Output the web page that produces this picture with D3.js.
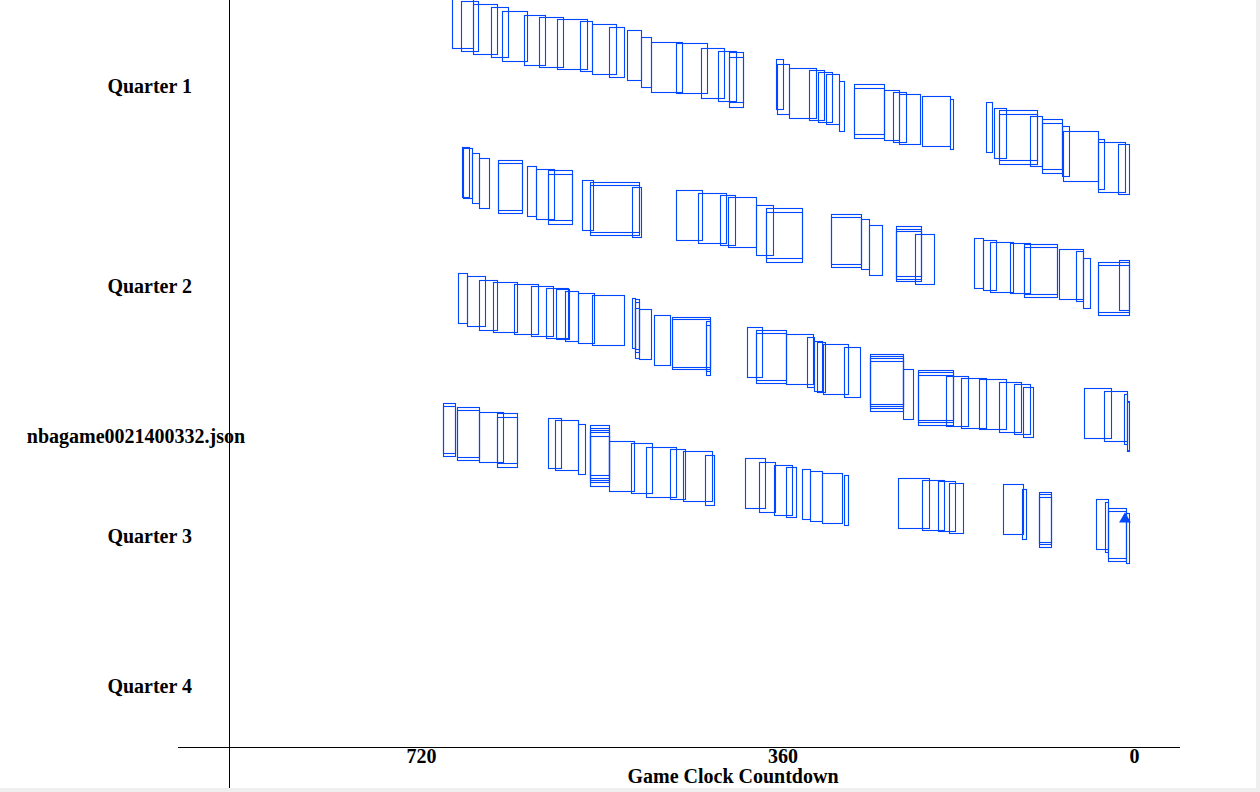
<!DOCTYPE html>
<html>
<head>
<meta charset="utf-8">
<script src="https://cdnjs.cloudflare.com/ajax/libs/d3/7.8.5/d3.min.js"></script>
<style>
  html, body { margin: 0; padding: 0; background: #fff; overflow: hidden; }
  text { font-family: "Liberation Serif", "Times New Roman", serif; font-weight: bold; font-size: 20px; fill: #000; }
</style>
</head>
<body>
<svg id="chart" width="1260" height="792"></svg>
<script>
// ---- data: [clockStart (s), clockEnd (s), rowOffset (units)] per quarter ----
const quarter1 = [
  [674.6,653.1,-0.2],[665.3,648.1,0.1],[653.1,629.2,0.43],[635.4,618.8,0.73],[624.8,599.3,1.07],
  [602.3,581.4,1.5],[587.3,563.4,1.73],[569.4,540.1,1.93],[546.5,535.2,2.07],[535.2,511.3,2.43],
  [517.6,502.7,2.67],[499.7,485.8,3.0],[485.8,476.4,3.73],[476.4,444.9,4.17],[450.9,420.0,4.33],
  [426.0,403.1,4.77],[409.1,391.7,5.07],[398.1,384.2,5.23],[398.1,384.2,5.73],
  [351.9,345.0,5.93],[350.9,338.3,6.4],[338.3,312.0,6.8],[318.4,303.5,7.0],[309.5,295.5,7.17],
  [301.5,288.5,7.4],[288.5,283.5,8.1],[273.6,243.7,8.37],[273.6,243.7,8.77],[243.7,228.8,9.0],
  [234.8,222.4,9.15],[228.8,208.5,9.35],[205.9,178.6,9.6],[178.6,175.0,9.9],[142.1,136.2,10.2],
  [134.2,122.8,10.8],[129.2,91.9,11.03],[129.2,91.9,11.43],[98.3,87.0,11.55],[87.0,67.0,11.93],
  [87.0,67.0,12.33],[67.0,59.5,12.6],[65.4,31.2,13.1],[31.2,24.6,13.9],[30.6,4.3,14.23],[10.7,0,14.45]
];
const quarter2 = [
  [664.0,657.0,14.72],[663.0,654.1,14.83],[654.1,647.4,15.28],[647.4,637.7,15.8],[628.2,604.9,16.03],
  [628.2,604.9,16.3],[599.3,590.3,16.55],[590.3,572.5,16.93],[578.4,555.1,17.03],[578.4,555.1,17.37],
  [544.5,534.2,18.0],[536.5,488.3,18.23],[536.5,488.3,18.5],[494.7,485.8,18.73],[450.9,425.6,19.0],
  [429.0,401.7,19.25],[407.1,392.7,19.5],[399.1,371.2,19.65],[371.2,354.9,20.5],[361.3,325.7,20.83],
  [361.3,325.7,21.2],[296.5,267.2,21.43],[296.5,267.2,21.73],[267.2,259.3,21.95],[259.3,245.7,22.45],
  [231.8,206.9,22.63],[231.8,206.9,22.87],[231.8,206.9,23.1],[212.8,193.9,23.42],[154.1,145.2,23.75],
  [145.1,132.3,24.0],[138.1,115.8,24.15],[118.2,98.3,24.3],[104.3,72.0,24.43],[104.3,72.0,24.73],
  [69.4,46.1,24.9],[52.5,46.1,25.07],[46.1,38.5,25.8],[30.6,0,26.23],[30.6,0,26.53],[9.7,0,26.03]
];
const quarter3 = [
  [668.0,659.1,27.3],[659.1,641.2,27.63],[647.1,629.8,28.0],[633.2,609.3,28.2],[612.2,588.9,28.35],
  [595.3,574.0,28.55],[580.4,559.1,28.8],[570.4,557.8,28.93],[561.4,548.5,29.1],[548.5,532.6,29.33],
  [535.2,502.7,29.53],[495.3,492.4,29.75],[492.4,488.4,29.93],[492.4,488.4,30.2],[492.4,488.4,30.77],
  [488.4,475.8,30.88],[472.8,457.5,31.47],[455.6,417.0,31.67],[455.6,417.0,31.9],[421.7,417.0,32.1],
  [421.7,417.0,32.5],
  [380.1,365.2,32.7],[371.2,341.3,33.0],[371.2,341.3,33.33],[341.3,314.4,33.43],[320.4,313.4,33.65],
  [313.4,306.1,34.07],[310.5,302.5,34.2],[304.5,279.6,34.4],[283.6,267.6,34.65],[257.7,225.4,35.37],
  [257.7,225.4,35.6],[257.7,225.4,35.83],[257.7,225.4,36.1],[225.4,215.5,36.85],[209.9,175.6,37.03],
  [209.9,175.6,37.23],[209.9,175.6,37.5],[182.0,160.7,37.65],[167.0,142.7,37.8],[149.1,122.8,37.93],
  [129.2,107.9,38.15],[114.2,98.9,38.42],[105.3,95.3,38.68],[44.5,18.2,38.83],[24.6,1.7,39.05],
  [4.7,1.7,39.4],[1.7,0,40.1]
];
const quarter4 = [
  [683.0,671.0,40.33],[683.0,671.0,40.6],[669.0,647.1,40.73],[669.0,647.1,41.0],[647.1,623.2,41.23],
  [629.2,609.3,41.33],[629.2,609.3,41.67],[578.4,565.4,41.83],[571.4,548.5,41.98],[548.5,541.5,42.43],
  [536.5,517.6,42.53],[536.5,517.6,42.77],[536.5,517.6,43.0],[536.5,517.6,43.23],[536.5,517.6,43.63],
  [517.6,492.7,44.08],[495.7,474.8,44.3],[480.8,450.9,44.65],[456.9,441.9,44.9],[443.9,415.6,45.13],
  [421.9,413.0,45.5],
  [382.2,362.3,45.83],[368.3,352.4,46.18],[353.3,335.4,46.47],[341.3,331.4,46.72],[325.4,317.4,46.93],
  [317.4,305.5,47.08],[305.5,285.6,47.33],[283.6,279.6,47.53],[229.8,199.5,47.75],[205.9,184.0,47.98],
  [189.9,173.0,48.13],[179.0,165.1,48.28],[125.2,105.9,48.43],[106.9,102.3,48.88],[89.3,77.4,49.17],
  [89.3,77.4,49.4],[89.3,77.4,49.67],[32.6,20.7,49.93],[23.6,20.7,50.2],[20.6,3.3,50.83],
  [20.6,3.3,51.1],[3.3,0,51.33]
];
const endMarker = [[4, 51.9]];
const rowLabels = ["Quarter 1", "Quarter 2", "nbagame0021400332.json", "Quarter 3", "Quarter 4"];
const rowLabelPos = [8.6, 28.6, 43.6, 53.6, 68.6];
const tickValues = [720, 360, 0];
const boxHeight = 5;

// ---- layout ----
const svg = d3.select("#chart");
const W = 1260, H = 792;
const x = d3.scaleLinear().domain([720, 0]).range([406, 1129]);
const y = d3.scaleLinear().domain([0, 80]).range([0, 800]);
const axisLeftX = 229, axisY = 747;
const color = "#0048ff";
const px = v => Math.round(v) + 0.5;

// scrollbar strips like the screenshot
svg.append("rect").attr("x", W - 4).attr("y", 0).attr("width", 4).attr("height", H).attr("fill", "#efefef");
svg.append("rect").attr("x", 0).attr("y", H - 4).attr("width", W).attr("height", 4).attr("fill", "#efefef");

const all = [quarter1, quarter2, quarter3, quarter4].flat();
svg.append("g").selectAll("rect").data(all).join("rect")
  .attr("x", d => px(x(d[0])))
  .attr("y", d => px(y(d[2])))
  .attr("width", d => Math.max(1, Math.round(x(d[1])) - Math.round(x(d[0]))))
  .attr("height", Math.round(y(boxHeight) - y(0)))
  .attr("fill", "none")
  .attr("stroke", color)
  .attr("stroke-width", 1.1);

svg.append("g").selectAll("path").data(endMarker).join("path")
  .attr("transform", d => `translate(${x(d[0])},${y(d[1])})`)
  .attr("d", d3.symbol(d3.symbolTriangle, 60))
  .attr("fill", color);

// bottom axis
const axisScale = x.copy().domain([x.invert(178), x.invert(1180)]).range([178, 1180]);
const gx = svg.append("g").attr("transform", `translate(0,${axisY})`)
  .call(d3.axisBottom(axisScale).tickValues(tickValues).tickSize(0).tickFormat(d3.format("d")));
gx.select(".domain").attr("stroke", "#000").attr("d", `M178,0.5H1180`);
gx.selectAll(".tick text").attr("text-anchor", "start").attr("dy", null).attr("y", 16)
  .style("font-family", "Liberation Serif, serif").style("font-weight", "bold").style("font-size", "20px").attr("fill", "#000");

svg.append("text").attr("x", 733).attr("y", 783).attr("text-anchor", "middle").text("Game Clock Countdown");

// left axis line
svg.append("line").attr("x1", axisLeftX + 0.5).attr("x2", axisLeftX + 0.5).attr("y1", 0).attr("y2", 788)
  .attr("stroke", "#000");

svg.append("g").selectAll("text").data(rowLabels).join("text")
  .attr("x", (d, i) => i === 2 ? 136 : 192)
  .attr("y", (d, i) => y(rowLabelPos[i]) + 7)
  .attr("text-anchor", (d, i) => i === 2 ? "middle" : "end")
  .text(d => d);
</script>
</body>
</html>
